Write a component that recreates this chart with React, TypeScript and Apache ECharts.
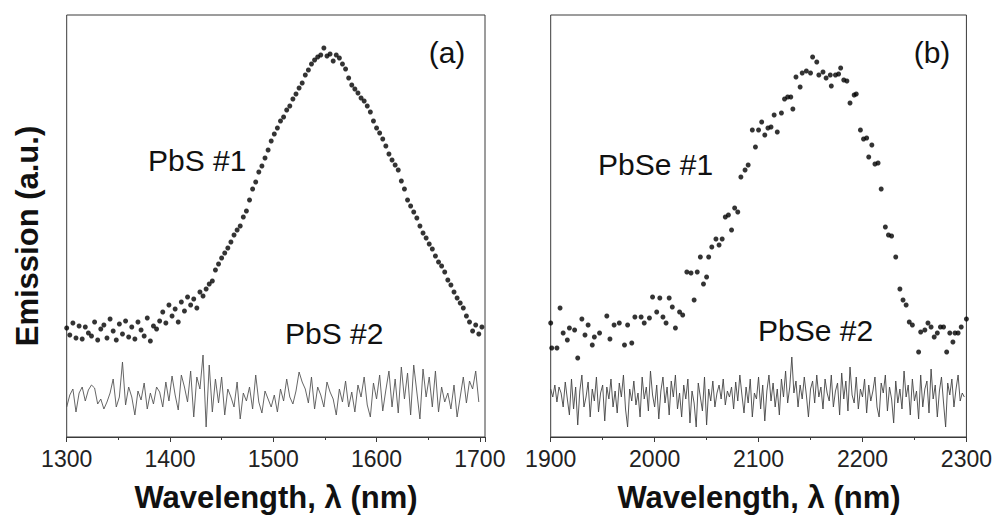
import React, { useEffect, useRef } from "react";
import * as echarts from "echarts";

// Panel (a): PbS #1 emission points [wavelength nm, emission a.u.]
const pbs1: [number, number][] = [
  [1300,109],[1303,102],[1306,114],[1309,99],[1312,111],[1315,98],[1318,110],[1321,104],[1324,101],[1327,115],
  [1330,97],[1333,108],[1336,112],[1339,99],[1342,118],[1345,106],[1348,97],[1351,113],[1354,103],[1357,116],
  [1360,100],[1363,110],[1366,98],[1369,115],[1372,107],[1375,101],[1378,119],[1381,96],[1384,111],[1387,108],
  [1390,116],[1393,125],[1396,114],[1399,132],[1402,121],[1405,128],[1408,115],[1411,135],[1414,126],[1417,140],
  [1420,132],[1423,138],[1426,129],[1429,145],[1432,141],[1435,148],[1438,153],[1441,156],[1444,167],[1447,173],
  [1450,179],[1453,184],[1456,189],[1459,195],[1462,202],[1465,207],[1468,211],[1471,220],[1474,226],[1477,237],
  [1480,248],[1483,255],[1486,265],[1489,271],[1492,279],[1495,287],[1498,296],[1501,303],[1504,309],[1507,316],
  [1510,320],[1513,327],[1516,331],[1519,338],[1522,343],[1525,349],[1528,354],[1531,362],[1534,367],[1537,373],
  [1540,377],[1543,380],[1546,382],[1549,389],[1552,381],[1555,383],[1558,376],[1561,382],[1564,379],[1567,373],
  [1570,368],[1573,359],[1576,352],[1579,348],[1582,344],[1585,339],[1588,336],[1591,331],[1594,325],[1597,316],
  [1600,309],[1603,304],[1606,298],[1609,291],[1612,283],[1615,277],[1618,272],[1621,267],[1624,256],[1627,248],
  [1630,237],[1633,231],[1636,225],[1639,219],[1642,211],[1645,204],[1648,199],[1651,193],[1654,188],[1657,181],
  [1660,175],[1663,171],[1666,165],[1669,157],[1672,152],[1675,145],[1678,139],[1681,134],[1684,129],[1687,121],
  [1690,115],[1693,106],[1696,112],[1699,103],[1702,110]
];

// Panel (a): PbS #2 emission trace
const pbs2: [number, number][] = [
  [1300,30],[1303,42],[1306,48],[1309,25],[1312,44],[1315,50],[1318,36],[1321,47],[1324,52],[1327,49],
  [1330,33],[1333,38],[1336,28],[1339,35],[1342,44],[1345,58],[1348,30],[1351,40],[1354,75],[1357,32],
  [1360,50],[1363,40],[1366,22],[1369,46],[1372,37],[1375,54],[1378,28],[1381,44],[1384,33],[1387,50],
  [1390,45],[1393,30],[1396,55],[1399,36],[1402,61],[1405,42],[1408,27],[1411,62],[1414,50],[1417,35],
  [1420,66],[1423,20],[1426,60],[1429,48],[1432,82],[1435,10],[1438,72],[1441,25],[1444,58],[1447,34],
  [1450,60],[1453,22],[1456,48],[1459,40],[1462,30],[1465,55],[1468,18],[1471,44],[1474,36],[1477,50],
  [1480,28],[1483,62],[1486,35],[1489,24],[1492,46],[1495,38],[1498,30],[1501,42],[1504,25],[1507,48],
  [1510,36],[1513,58],[1516,40],[1519,33],[1522,46],[1525,65],[1528,55],[1531,48],[1534,34],[1537,60],
  [1540,28],[1543,50],[1546,42],[1549,30],[1552,55],[1555,45],[1558,38],[1561,22],[1564,48],[1567,35],
  [1570,56],[1573,30],[1576,45],[1579,25],[1582,52],[1585,40],[1588,60],[1591,32],[1594,20],[1597,54],
  [1600,38],[1603,62],[1606,26],[1609,47],[1612,66],[1615,30],[1618,58],[1621,24],[1624,70],[1627,38],
  [1630,64],[1633,22],[1636,72],[1639,45],[1642,18],[1645,68],[1648,40],[1651,60],[1654,30],[1657,66],
  [1660,25],[1663,50],[1666,35],[1669,44],[1672,28],[1675,52],[1678,20],[1681,40],[1684,60],[1687,34],
  [1690,56],[1693,48],[1696,66],[1699,35]
];

// Panel (b): PbSe #1 emission points
const pbse1: [number, number][] = [
  [1900,114],[1901,89],[1906,89],[1909,129],[1912,104],[1916,97],[1918,109],[1923,107],[1926,79],[1930,118],
  [1933,102],[1936,112],[1940,92],[1942,100],[1947,104],[1954,121],[1957,98],[1961,112],[1966,114],[1971,92],
  [1974,112],[1978,94],[1981,120],[1987,120],[1990,114],[1995,119],[1998,140],[2002,125],[2005,139],[2008,120],
  [2011,114],[2014,139],[2017,130],[2020,109],[2024,125],[2027,122],[2031,165],[2035,164],[2038,137],[2041,165],
  [2044,180],[2047,153],[2050,160],[2052,180],[2055,190],[2059,198],[2062,192],[2065,198],[2068,220],[2071,222],
  [2074,207],[2077,229],[2080,225],[2083,260],[2087,267],[2090,272],[2094,307],[2097,290],[2100,307],[2103,315],
  [2106,302],[2109,309],[2112,310],[2115,322],[2118,305],[2122,324],[2125,338],[2128,340],[2131,340],[2133,328],
  [2136,360],[2140,350],[2142,364],[2146,366],[2150,364],[2152,380],[2156,375],[2158,362],[2162,365],[2165,359],
  [2169,362],[2170,351],[2174,362],[2177,363],[2179,369],[2182,357],[2185,356],[2188,334],[2192,342],[2194,343],
  [2198,307],[2201,298],[2204,299],[2206,280],[2209,292],[2212,273],[2215,274],[2218,248],[2222,210],[2225,202],
  [2228,201],[2232,180],[2236,148],[2239,137],[2242,132],[2245,115],[2248,112],[2254,85],[2256,105],[2260,107],
  [2263,114],[2266,110],[2269,100],[2272,104],[2275,110],[2278,110],[2281,85],[2284,104],[2287,95],[2289,104],
  [2292,104],[2295,110],[2300,118]
];

// Panel (b): PbSe #2 emission trace
const pbse2: [number, number][] = [
  [1900,48],[1902,40],[1904,52],[1906,35],[1908,50],[1910,44],[1912,30],[1914,55],[1916,38],[1918,22],
  [1920,58],[1922,28],[1924,50],[1926,12],[1928,46],[1930,62],[1932,30],[1934,40],[1936,55],[1938,20],
  [1940,48],[1942,36],[1944,60],[1946,25],[1948,44],[1950,52],[1952,16],[1954,50],[1956,38],[1958,58],
  [1960,30],[1962,46],[1964,24],[1966,54],[1968,40],[1970,62],[1972,28],[1974,10],[1976,48],[1978,36],
  [1980,56],[1982,32],[1984,44],[1986,20],[1988,60],[1990,38],[1992,50],[1994,26],[1996,66],[1998,42],
  [2000,30],[2002,52],[2004,18],[2006,46],[2008,60],[2010,34],[2012,50],[2014,22],[2016,56],[2018,40],
  [2020,62],[2022,28],[2024,44],[2026,20],[2028,52],[2030,38],[2032,58],[2034,14],[2036,46],[2038,34],
  [2040,10],[2042,54],[2044,40],[2046,26],[2048,60],[2050,12],[2052,48],[2054,36],[2056,56],[2058,30],
  [2060,44],[2062,52],[2064,38],[2066,58],[2068,32],[2070,46],[2072,40],[2074,50],[2076,28],[2078,55],
  [2080,36],[2082,62],[2084,42],[2086,24],[2088,50],[2090,34],[2092,58],[2094,20],[2096,44],[2098,38],
  [2100,60],[2102,28],[2104,52],[2106,16],[2108,46],[2110,62],[2112,36],[2114,54],[2116,30],[2118,48],
  [2120,22],[2122,58],[2124,40],[2126,66],[2128,34],[2130,50],[2132,80],[2134,44],[2136,56],[2138,30],
  [2140,52],[2142,38],[2144,60],[2146,42],[2148,20],[2150,48],[2152,56],[2154,34],[2156,62],[2158,40],
  [2160,50],[2162,28],[2164,58],[2166,44],[2168,36],[2170,62],[2172,30],[2174,46],[2176,54],[2178,22],
  [2180,64],[2182,38],[2184,56],[2186,26],[2188,70],[2190,42],[2192,34],[2194,60],[2196,28],[2198,48],
  [2200,40],[2202,58],[2204,24],[2206,52],[2208,36],[2210,46],[2212,60],[2214,30],[2216,20],[2218,54],
  [2220,44],[2222,62],[2224,26],[2226,50],[2228,38],[2230,14],[2232,56],[2234,34],[2236,48],[2238,28],
  [2240,66],[2242,40],[2244,52],[2246,22],[2248,58],[2250,36],[2252,46],[2254,18],[2256,62],[2258,30],
  [2260,48],[2262,56],[2264,24],[2266,68],[2268,38],[2270,52],[2272,20],[2274,46],[2276,60],[2278,34],
  [2280,10],[2282,54],[2284,42],[2286,58],[2288,30],[2290,48],[2292,62],[2294,36],[2296,44],[2298,40]
];

const xRangeA = [1300, 1705];
const xRangeB = [1900, 2300];
const yRange = [0, 422];
const xTitle = "Wavelength, \u03bb (nm)";
const yTitle = "Emission (a.u.)";

export default function App() {
  const ref = useRef<HTMLDivElement>(null);
  useEffect(() => {
    const chart = echarts.init(ref.current!, null, { renderer: "svg" });
    const font = "'Liberation Sans', Arial, sans-serif";
    const axisColor = "#3a3a3a";
    const xAxis = (gridIndex: number, range: number[]) => ({
      type: "value",
      gridIndex,
      min: range[0],
      max: range[1],
      interval: 100,
      axisLine: { show: true, onZero: false, lineStyle: { color: axisColor, width: 1 } },
      axisTick: { show: true, inside: false, length: 5, lineStyle: { color: axisColor } },
      minorTick: { show: true, splitNumber: 2, length: 3, lineStyle: { color: axisColor } },
      axisLabel: {
        fontSize: 23,
        color: "#222",
        fontFamily: font,
        margin: 10,
        formatter: (v: number) => (v % 100 === 0 ? String(v) : ""),
      },
      splitLine: { show: false },
    });
    const yAxis = (gridIndex: number) => ({
      type: "value",
      gridIndex,
      min: yRange[0],
      max: yRange[1],
      axisLine: { show: false },
      axisTick: { show: false },
      axisLabel: { show: false },
      splitLine: { show: false },
    });
    const txt = (text: string, x: number, y: number, size: number, bold = false, rotation = 0) => ({
      type: "text",
      x,
      y,
      rotation,
      style: {
        text,
        fill: "#111",
        font: `${bold ? "bold " : ""}${size}px ${font}`,
        align: "center",
        verticalAlign: "middle",
      },
    });
    const txtL = (text: string, x: number, y: number, size: number) => ({
      type: "text",
      x,
      y,
      style: {
        text,
        fill: "#111",
        font: `${size}px ${font}`,
        align: "left",
        verticalAlign: "middle",
      },
    });
    chart.setOption({
      animation: false,
      backgroundColor: "#fff",
      grid: [
        { left: 66.7, top: 15, width: 418.3, height: 422, show: true, borderColor: axisColor, borderWidth: 1 },
        { left: 550.7, top: 15, width: 418.3, height: 422, show: true, borderColor: axisColor, borderWidth: 1 },
      ],
      xAxis: [xAxis(0, xRangeA), xAxis(1, xRangeB)],
      yAxis: [yAxis(0), yAxis(1)],
      series: [
        {
          name: "PbS #1",
          type: "scatter",
          xAxisIndex: 0,
          yAxisIndex: 0,
          data: pbs1,
          symbol: "circle",
          symbolSize: 5,
          itemStyle: { color: "#000" },
        },
        {
          name: "PbS #2",
          type: "line",
          xAxisIndex: 0,
          yAxisIndex: 0,
          data: pbs2,
          showSymbol: false,
          lineStyle: { color: "#555", width: 0.9 },
        },
        {
          name: "PbSe #1",
          type: "scatter",
          xAxisIndex: 1,
          yAxisIndex: 1,
          data: pbse1,
          symbol: "circle",
          symbolSize: 5,
          itemStyle: { color: "#000" },
        },
        {
          name: "PbSe #2",
          type: "line",
          xAxisIndex: 1,
          yAxisIndex: 1,
          data: pbse2,
          showSymbol: false,
          lineStyle: { color: "#444", width: 0.9 },
        },
      ],
      graphic: [
        txt("(a)", 447, 52, 30),
        txt("(b)", 932, 52, 30),
        txtL("PbS #1", 148, 160, 30),
        txtL("PbS #2", 285, 333, 30),
        txtL("PbSe #1", 598, 164, 30),
        txtL("PbSe #2", 758, 330, 30),
        txt(xTitle, 276, 497, 31, true),
        txt(xTitle, 759, 497, 31, true),
        txt(yTitle, 27, 236, 31, true, Math.PI / 2),
      ],
    });
    return () => chart.dispose();
  }, []);
  return (
    <div
      ref={ref}
      style={{ position: "fixed", left: 0, top: 0, width: 995, height: 517 }}
    />
  );
}
